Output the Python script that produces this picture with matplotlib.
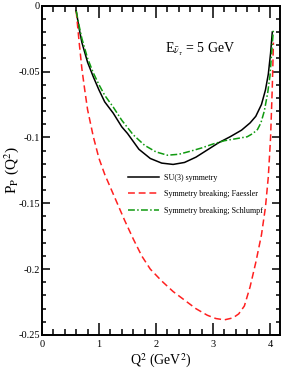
import matplotlib
matplotlib.use("Agg")
import matplotlib.pyplot as plt
from matplotlib.ticker import MultipleLocator, FuncFormatter

plt.rcParams['font.family'] = ['Liberation Serif', 'DejaVu Serif']
plt.rcParams['mathtext.fontset'] = 'stix'
plt.rcParams['axes.unicode_minus'] = False

# Q^2 values (GeV^2) and polarization
q2_su3 = [0.60, 0.65, 0.70, 0.80, 0.90, 1.00, 1.10, 1.25, 1.40, 1.50, 1.70, 1.90,
          2.10, 2.30, 2.50, 2.70, 2.90, 3.10, 3.30, 3.50, 3.65, 3.75, 3.85, 3.92,
          3.97, 4.01, 4.04]
pp_su3 = [-0.004, -0.017, -0.028, -0.043, -0.054, -0.064, -0.073, -0.0816, -0.092,
          -0.097, -0.109, -0.116, -0.1195, -0.1205, -0.119, -0.115, -0.1095, -0.104,
          -0.0995, -0.0945, -0.089, -0.084, -0.075, -0.064, -0.052, -0.036, -0.020]

q2_faessler = [0.60, 0.65, 0.70, 0.75, 0.80, 0.90, 1.00, 1.10, 1.20, 1.30, 1.45,
               1.60, 1.75, 1.90, 2.10, 2.30, 2.50, 2.70, 2.90, 3.05, 3.20, 3.35,
               3.45, 3.55, 3.65, 3.75, 3.85, 3.92, 3.97, 4.01, 4.04, 4.06]
pp_faessler = [-0.004, -0.027, -0.048, -0.064, -0.079, -0.0994, -0.116, -0.128,
               -0.138, -0.148, -0.163, -0.177, -0.190, -0.200, -0.209, -0.217,
               -0.2235, -0.230, -0.235, -0.2375, -0.2385, -0.237, -0.234, -0.228,
               -0.2135, -0.195, -0.174, -0.153, -0.130, -0.100, -0.062, -0.028]

q2_schlumpf = [0.60, 0.65, 0.70, 0.80, 0.90, 1.00, 1.10, 1.25, 1.40, 1.60, 1.80,
               2.00, 2.20, 2.40, 2.60, 2.80, 3.00, 3.20, 3.40, 3.60, 3.70, 3.78,
               3.84, 3.90, 3.96, 4.00, 4.03, 4.06]
pp_schlumpf = [-0.004, -0.015, -0.025, -0.040, -0.051, -0.060, -0.068, -0.077,
               -0.087, -0.098, -0.106, -0.111, -0.1135, -0.1128, -0.1105, -0.108,
               -0.105, -0.1025, -0.101, -0.0995, -0.097, -0.094, -0.089, -0.080,
               -0.066, -0.053, -0.035, -0.018]

labels = ['SU(3) symmetry', 'Symmetry breaking; Faessler',
          'Symmetry breaking; Schlumpf']

fig = plt.figure(figsize=(2.84, 3.82), dpi=100)
ax = fig.add_axes([42 / 284, 47 / 382, 237.7 / 284, 329.3 / 382])

ax.plot(q2_su3, pp_su3, color='black', lw=1.1, label=labels[0])
ax.plot(q2_faessler, pp_faessler, color='#ff2020', lw=1.1, dashes=(4.5, 2.5),
        label=labels[1])
ax.plot(q2_schlumpf, pp_schlumpf, color='#109a10', lw=1.1,
        dashes=(4.5, 1.5, 1, 1.5), label=labels[2])

ax.set_xlim(0, 4.17)
ax.set_ylim(-0.25, 0)
ax.xaxis.set_major_locator(MultipleLocator(1))
ax.xaxis.set_minor_locator(MultipleLocator(0.2))
ax.yaxis.set_major_locator(MultipleLocator(0.05))
ax.yaxis.set_minor_locator(MultipleLocator(0.01))
fmt = FuncFormatter(lambda v, p: '%g' % round(v, 3))
ax.xaxis.set_major_formatter(fmt)
ax.yaxis.set_major_formatter(fmt)

ax.tick_params(which='both', direction='in', top=True, right=True, width=1.1)
ax.tick_params(axis='x', which='major', length=8.5, pad=3.5, labelsize=7.5)
ax.tick_params(axis='x', which='minor', length=4.3)
ax.tick_params(axis='y', which='major', length=5.8, pad=1.5, labelsize=7.5)
ax.tick_params(axis='y', which='minor', length=2.9)
for s in ax.spines.values():
    s.set_linewidth(1.4)

ax.set_xlabel(r'Q$^2$ (GeV$^2$)', fontsize=10)
ax.xaxis.set_label_coords(0.5, -0.05)
ax.set_ylabel(r'P$_\mathrm{P}$ (Q$^2$)', fontsize=11)
ax.yaxis.set_label_coords(-0.09, 0.5)

ax.text(2.15, -0.033, r'E$_{\bar{\nu}_\tau}$ = 5 GeV', fontsize=10, va='center')

ax.legend(loc='upper left', bbox_to_anchor=(0.362, 0.49), frameon=False,
          fontsize=5.8, handlelength=3.8, handletextpad=0.7, labelspacing=1.05,
          borderpad=0, borderaxespad=0)

fig.savefig('out.png', dpi=100)
